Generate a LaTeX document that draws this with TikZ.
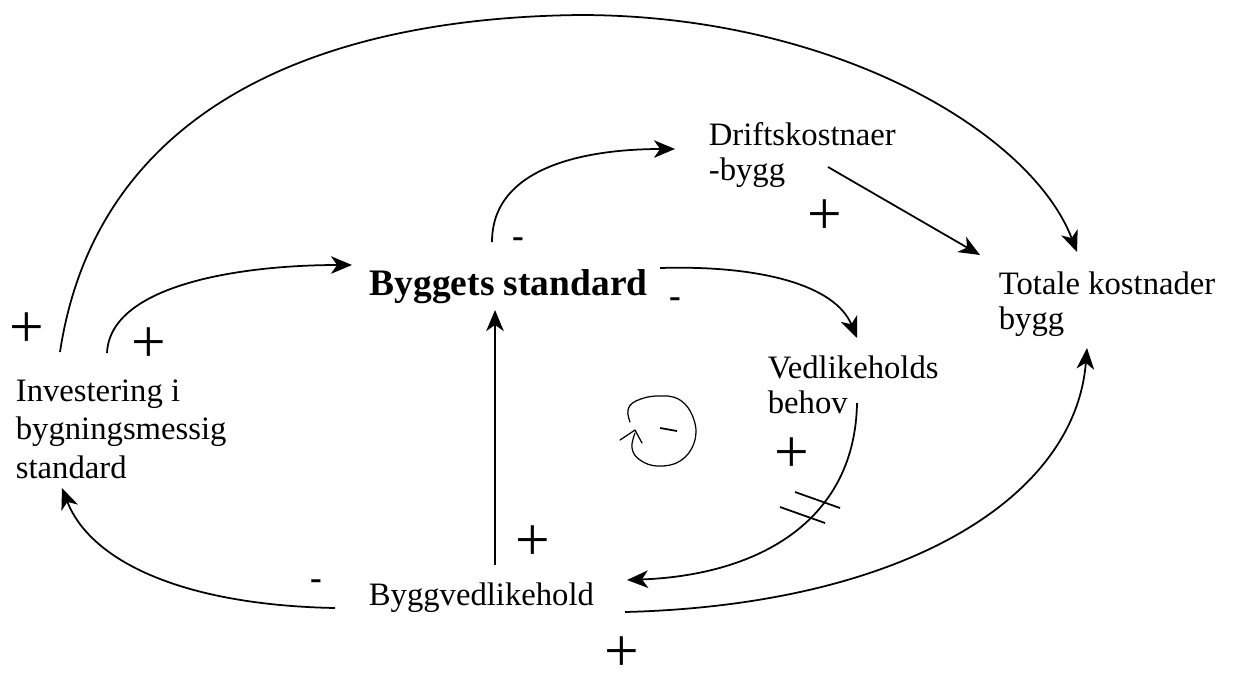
\documentclass[tikz,border=0pt]{standalone}
\usepackage{fontspec}
\setmainfont{Liberation Serif}
\usetikzlibrary{arrows.meta}
\begin{document}
\begin{tikzpicture}[x=0.02cm,y=-0.02cm,line width=1pt,
  >={Stealth[length=12pt,width=10pt,inset=3.5pt]},
  lbl/.style={inner sep=0pt,anchor=base west,align=left,font=\fontsize{18.6}{19.9}\selectfont},
  invlbl/.style={lbl,font=\fontsize{18.6}{21.8}\selectfont},
  blbl/.style={inner sep=0pt,anchor=base west,font=\fontsize{21.3}{22}\selectfont\bfseries},
  plussign/.style={inner sep=0pt,font=\fontsize{35}{35}\selectfont},
  minussign/.style={inner sep=0pt,font=\fontsize{20}{20}\selectfont\bfseries},
  conn/.style={->},
  hand/.style={line width=0.7pt,line cap=round,line join=round}]
\useasboundingbox (0,0) rectangle (1236,677);
% nodes (base west = baseline of last line)
\node[invlbl] (inv) at (15,478) {Investering i\\bygningsmessig\\standard};
\node[blbl] (byg) at (369,295) {Byggets standard};
\node[lbl] (drift) at (708,180) {Driftskostnaer\\-bygg};
\node[lbl] (tot) at (998,329) {Totale kostnader\\bygg};
\node[lbl] (ved) at (767,413) {Vedlikeholds\\behov};
\node[lbl] (bv) at (368,605) {Byggvedlikehold};
% connectors
\draw[conn] ([shift={(45,-126)}]inv.base west) .. controls (95,120) and (300,18) .. (580,15)
   .. controls (830,15) and (1030,130) .. ([shift={(79,-77)}]tot.base west);
\draw[conn] ([shift={(92,-125)}]inv.base west) .. controls (110,285) and (240,265) .. ([shift={(-17,-30)}]byg.base west);
\draw[conn] ([shift={(123,-53)}]byg.base west) .. controls (492,165) and (590,149) .. ([shift={(-33,-31)}]drift.base west);
\draw[conn] ([shift={(120,-13)}]drift.base west) -- ([shift={(-18,-74)}]tot.base west);
\draw[conn] ([shift={(291,-27)}]byg.base west) .. controls (760,265) and (835,285) .. ([shift={(90,-75)}]ved.base west);
\draw[conn] ([shift={(90,-10)}]ved.base west) .. controls (855,520) and (760,575) .. ([shift={(259,-25)}]bv.base west);
\draw[conn] ([shift={(127,-40)}]bv.base west) -- ([shift={(126,15)}]byg.base west);
\draw[conn] ([shift={(-33,3)}]bv.base west) .. controls (180,605) and (90,560) .. ([shift={(47,10)}]inv.base west);
\draw[conn] ([shift={(257,7)}]bv.base west) .. controls (900,605) and (1075,500) .. ([shift={(89,19)}]tot.base west);
% delay marks
\draw (795,492) -- (840,508);
\draw (780,507) -- (825,523);
% signs
\node[plussign] (p1) at (27,330) {+};
\node[plussign] (p2) at (149,345) {+};
\node[minussign] (m1) at (518,243) {-};
\node[minussign] (m2) at (675,303) {-};
\node[plussign] (p3) at (825,217) {+};
\node[plussign] (p4) at (792,455) {+};
\node[plussign] (p5) at (533,543) {+};
\node[minussign] (m3) at (316,585) {-};
\node[plussign] (p6) at (622,654) {+};
% loop symbol
\draw[hand] plot[smooth,tension=0.7] coordinates {(630,422) (628,410) (636,401) (657,396) (680,400) (694,420) (694,443) (680,461) (658,466) (640,460) (632,448) (635,433)};
\draw[hand] (620,440) -- (635,430) -- (642,443);
\draw[line width=1pt] (660,428) -- (677,431);
\end{tikzpicture}
\end{document}
